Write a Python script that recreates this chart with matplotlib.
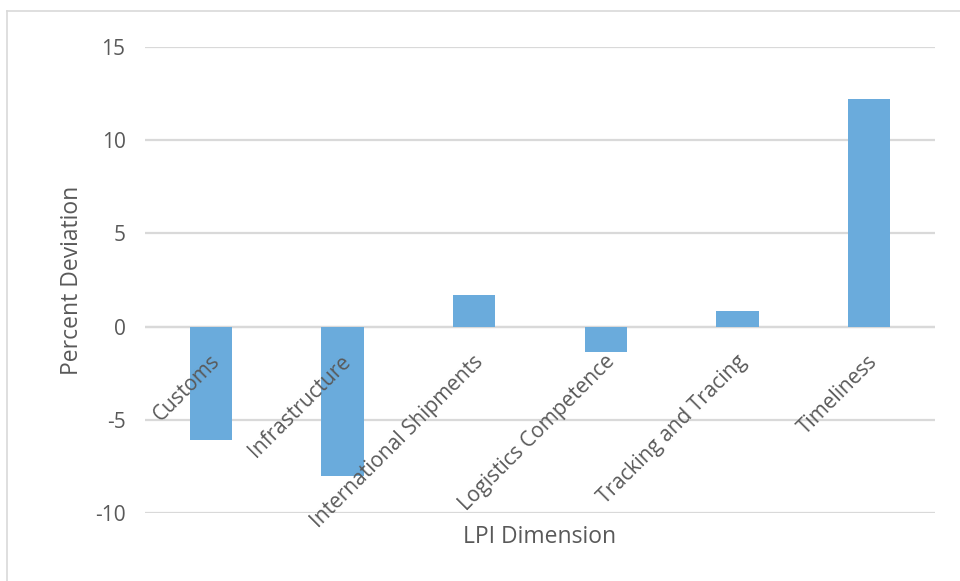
import matplotlib.pyplot as plt
from matplotlib.lines import Line2D
import matplotlib.transforms as mtransforms

plt.rcParams['font.family'] = ['Open Sans', 'DejaVu Sans']

# LPI dimensions and their percent deviation
dimensions = ['Customs', 'Infrastructure', 'International Shipments',
              'Logistics Competence', 'Tracking and Tracing', 'Timeliness']
deviation = [-6.1, -8.0, 1.7, -1.35, 0.84, 12.2]
yticks = [-10, -5, 0, 5, 10, 15]

text_color = '#595959'
grid_color = '#D9D9D9'
bar_color = '#6AABDC'

fig = plt.figure(figsize=(9.6, 5.81), dpi=100)
ax = fig.add_axes([145 / 960, 1 - 513 / 581, 790 / 960, 466 / 581])

x = range(len(dimensions))
ax.bar(x, deviation, width=0.32, color=bar_color, zorder=3)

ax.set_xlim(-0.5, len(dimensions) - 0.5)
ax.set_ylim(-10, 15)
ax.set_yticks(yticks)
ax.set_yticklabels([str(t) for t in yticks], fontsize=15, color=text_color)
ax.tick_params(axis='y', length=0, pad=14)
ax.set_xticks([])
ax.grid(axis='y', color=grid_color, linewidth=1.6, zorder=0)
ax.axhline(0, color=grid_color, linewidth=1.6, zorder=1)
for s in ax.spines.values():
    s.set_visible(False)

# category labels sit just under the zero line, rotated
offset = mtransforms.ScaledTranslation(4 / 72, -23 / 72, fig.dpi_scale_trans)
for i, name in enumerate(dimensions):
    ax.text(i, 0, name, rotation=45, rotation_mode='anchor', ha='right',
            va='center', fontsize=15, color=text_color,
            transform=ax.transData + offset)

ax.set_ylabel('Percent Deviation', fontsize=16.5, color=text_color, labelpad=8)
fig.text(540 / 960, 1 - 537 / 581, 'LPI Dimension', fontsize=16.5,
         color=text_color, ha='center', va='center')

# chart area border (left and top edges)
fig.add_artist(Line2D([7 / 960, 7 / 960], [0, 1 - 11 / 581], color=grid_color,
                      linewidth=1.2, transform=fig.transFigure))
fig.add_artist(Line2D([7 / 960, 1], [1 - 11 / 581, 1 - 11 / 581], color=grid_color,
                      linewidth=1.2, transform=fig.transFigure))

fig.savefig('out.png', dpi=100)
